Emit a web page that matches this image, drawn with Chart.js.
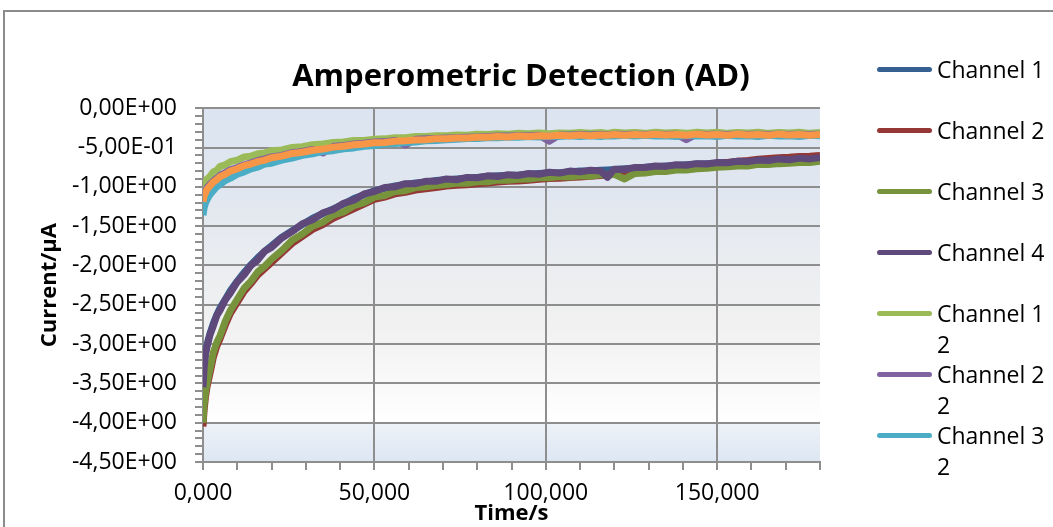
<!DOCTYPE html>
<html>
<head>
<meta charset="utf-8">
<title>Amperometric Detection (AD)</title>
<script src="https://cdn.jsdelivr.net/npm/chart.js@4.4.1/dist/chart.umd.min.js"></script>
<style>
  html, body { margin: 0; padding: 0; background: #fff; overflow: hidden; }
  #wrap { position: relative; width: 1053px; height: 527px; }
  #frame { position: absolute; left: 3px; top: 10px; width: 1100px; height: 600px; border: 2px solid #8b8b8b; }
  #chart { position: absolute; left: 0; top: 0; }
  #legend { position: absolute; left: 877px; top: 54px; width: 176px; height: 432px; overflow: hidden;
            font-family: "Open Sans"; font-size: 23px; line-height: 31px; color: #000; }
  .item { position: relative; height: 61px; }
  .swatch { position: absolute; left: 0; top: 13px; width: 55px; height: 5px; border-radius: 3px; }
  .text { position: absolute; left: 60px; top: 0; width: 116px; }
</style>
</head>
<body>
<div id="wrap">
  <div id="frame"></div>
  <canvas id="chart" width="1053" height="527"></canvas>
  <div id="legend"></div>
</div>
<script>
// time in s
const times = [0, 0.3, 0.7, 1.2, 2, 3, 4, 5, 6.5, 8, 10, 12, 14, 16, 18, 20, 23, 26, 29, 32,
  35, 38, 41, 44, 47, 50, 53, 56, 59, 62, 65, 68, 71, 74, 77, 80, 83, 86, 89, 92,
  95, 98, 101, 104, 107, 110, 113, 116, 118, 120, 123, 126, 129, 132, 135, 138, 141, 144, 147, 150,
  153, 156, 159, 162, 165, 168, 171, 174, 177, 180];

// current in µA
const ch1 = [-3.54, -3.28, -3.12, -3.00, -2.87, -2.74, -2.63, -2.54, -2.43, -2.32,
  -2.20, -2.09, -1.99, -1.90, -1.82, -1.75, -1.64, -1.56, -1.48, -1.40,
  -1.34, -1.28, -1.22, -1.15, -1.10, -1.05, -1.02, -0.99, -0.97, -0.95,
  -0.94, -0.92, -0.91, -0.90, -0.89, -0.88, -0.87, -0.86, -0.855, -0.85,
  -0.84, -0.83, -0.825, -0.82, -0.81, -0.80, -0.80, -0.79, -0.785, -0.78,
  -0.77, -0.765, -0.75, -0.745, -0.735, -0.73, -0.72, -0.71, -0.705, -0.70,
  -0.69, -0.685, -0.675, -0.67, -0.66, -0.655, -0.65, -0.64, -0.64, -0.635];
const ch2 = [-4.05, -3.85, -3.68, -3.54, -3.38, -3.17, -3.03, -2.93, -2.76, -2.61,
  -2.47, -2.33, -2.23, -2.12, -2.04, -1.96, -1.84, -1.72, -1.63, -1.54,
  -1.48, -1.40, -1.34, -1.28, -1.22, -1.16, -1.13, -1.09, -1.07, -1.04,
  -1.025, -1.01, -0.99, -0.98, -0.975, -0.96, -0.95, -0.94, -0.93, -0.925,
  -0.915, -0.905, -0.895, -0.89, -0.88, -0.875, -0.865, -0.855, -0.85, -0.84,
  -0.835, -0.825, -0.81, -0.79, -0.78, -0.765, -0.75, -0.735, -0.72, -0.705,
  -0.69, -0.675, -0.665, -0.65, -0.64, -0.63, -0.625, -0.615, -0.61, -0.60];
const ch3 = [-4.00, -3.78, -3.62, -3.49, -3.32, -3.11, -2.98, -2.89, -2.71, -2.57,
  -2.43, -2.29, -2.20, -2.08, -2.01, -1.92, -1.81, -1.68, -1.60, -1.50,
  -1.45, -1.36, -1.32, -1.24, -1.20, -1.13, -1.11, -1.06, -1.05, -1.01,
  -1.00, -0.985, -0.97, -0.955, -0.955, -0.935, -0.935, -0.915, -0.915, -0.905,
  -0.90, -0.885, -0.885, -0.87, -0.875, -0.86, -0.865, -0.845, -0.855, -0.84,
  -0.90, -0.83, -0.825, -0.805, -0.805, -0.785, -0.785, -0.77, -0.765, -0.75,
  -0.745, -0.735, -0.735, -0.715, -0.715, -0.705, -0.70, -0.69, -0.69, -0.675];
const ch4 = [-3.55, -3.31, -3.14, -3.03, -2.89, -2.77, -2.64, -2.57, -2.44, -2.35,
  -2.21, -2.12, -2.00, -1.93, -1.82, -1.77, -1.65, -1.57, -1.47, -1.42,
  -1.33, -1.29, -1.21, -1.17, -1.09, -1.06, -1.01, -1.00, -0.96, -0.96,
  -0.93, -0.93, -0.90, -0.91, -0.88, -0.885, -0.86, -0.87, -0.845, -0.855,
  -0.83, -0.84, -0.815, -0.825, -0.80, -0.81, -0.79, -0.80, -0.88, -0.775,
  -0.78, -0.755, -0.755, -0.735, -0.74, -0.72, -0.725, -0.705, -0.71, -0.69,
  -0.695, -0.675, -0.68, -0.66, -0.665, -0.645, -0.655, -0.635, -0.645, -0.625];
const ch1b = [-1.05, -0.98, -0.95, -0.90, -0.87, -0.81, -0.79, -0.74, -0.72, -0.68,
  -0.66, -0.62, -0.61, -0.58, -0.57, -0.54, -0.53, -0.50, -0.49, -0.465,
  -0.455, -0.435, -0.43, -0.41, -0.41, -0.395, -0.39, -0.375, -0.375, -0.36,
  -0.36, -0.35, -0.35, -0.34, -0.345, -0.33, -0.335, -0.325, -0.33, -0.32,
  -0.325, -0.315, -0.325, -0.315, -0.32, -0.31, -0.32, -0.31, -0.32, -0.305,
  -0.315, -0.31, -0.32, -0.305, -0.315, -0.31, -0.32, -0.305, -0.315, -0.305,
  -0.32, -0.31, -0.315, -0.305, -0.32, -0.31, -0.315, -0.305, -0.32, -0.31];
const ch2b = [-1.17, -1.10, -1.06, -1.01, -0.97, -0.925, -0.89, -0.855, -0.82, -0.785,
  -0.755, -0.72, -0.695, -0.665, -0.645, -0.62, -0.60, -0.565, -0.55, -0.525,
  -0.57, -0.485, -0.475, -0.455, -0.445, -0.43, -0.425, -0.41, -0.47, -0.395,
  -0.39, -0.385, -0.38, -0.375, -0.37, -0.365, -0.36, -0.355, -0.355, -0.35,
  -0.35, -0.345, -0.42, -0.34, -0.34, -0.335, -0.34, -0.335, -0.34, -0.33,
  -0.335, -0.33, -0.335, -0.33, -0.335, -0.33, -0.40, -0.33, -0.335, -0.33,
  -0.335, -0.33, -0.335, -0.33, -0.335, -0.33, -0.335, -0.33, -0.335, -0.33];
const ch3b = [-1.36, -1.27, -1.21, -1.16, -1.10, -1.05, -1.00, -0.97, -0.92, -0.89,
  -0.84, -0.81, -0.77, -0.75, -0.71, -0.70, -0.66, -0.635, -0.60, -0.58,
  -0.55, -0.54, -0.515, -0.505, -0.485, -0.475, -0.455, -0.45, -0.435, -0.43,
  -0.415, -0.41, -0.40, -0.395, -0.385, -0.385, -0.375, -0.375, -0.365, -0.37,
  -0.36, -0.365, -0.355, -0.36, -0.35, -0.36, -0.35, -0.36, -0.35, -0.355,
  -0.345, -0.355, -0.345, -0.355, -0.35, -0.36, -0.345, -0.355, -0.35, -0.36,
  -0.345, -0.355, -0.35, -0.36, -0.345, -0.355, -0.35, -0.36, -0.345, -0.35];
const ch4b = [-1.19, -1.12, -1.08, -1.03, -0.99, -0.94, -0.91, -0.87, -0.84, -0.80,
  -0.77, -0.73, -0.71, -0.68, -0.66, -0.63, -0.61, -0.575, -0.56, -0.535,
  -0.52, -0.495, -0.485, -0.465, -0.455, -0.44, -0.435, -0.42, -0.415, -0.405,
  -0.40, -0.39, -0.39, -0.38, -0.38, -0.37, -0.37, -0.36, -0.365, -0.355,
  -0.36, -0.35, -0.355, -0.345, -0.35, -0.34, -0.35, -0.34, -0.345, -0.335,
  -0.345, -0.335, -0.34, -0.33, -0.34, -0.335, -0.345, -0.33, -0.34, -0.335,
  -0.345, -0.33, -0.34, -0.335, -0.345, -0.33, -0.34, -0.335, -0.345, -0.335];

const seriesNames = ['Channel 1', 'Channel 2', 'Channel 3', 'Channel 4',
  'Channel 1 2', 'Channel 2 2', 'Channel 3 2', 'Channel 4 2'];
const seriesValues = [ch1, ch2, ch3, ch4, ch1b, ch2b, ch3b, ch4b];
const seriesColors = ['#376092', '#953735', '#77933c', '#5f497a',
  '#9bbb59', '#8064a2', '#4bacc6', '#f79646'];

const xTickStep = 10;
const yTickStep = 0.1;

const FONT = 'Open Sans';
const GRID = '#8e8e8e';

function sci(v) {
  const parts = v.toExponential(2).split('e');
  const e = parseInt(parts[1], 10);
  return parts[0].replace('.', ',') + 'E' + (e < 0 ? '-' : '+') + String(Math.abs(e)).padStart(2, '0');
}
const isMajor = (v, step) => Math.abs(v / step - Math.round(v / step)) < 1e-6;

// Excel style plot area fill
const plotBackground = {
  id: 'plotBackground',
  beforeDraw(chart) {
    const { ctx, chartArea: a } = chart;
    const g = ctx.createLinearGradient(0, a.top, 0, a.bottom);
    g.addColorStop(0, '#dbe4f0');
    g.addColorStop(0.25, '#e1e7f0');
    g.addColorStop(0.45, '#ebedf0');
    g.addColorStop(0.62, '#f1f1f1');
    g.addColorStop(0.78, '#f9f9f9');
    g.addColorStop(0.885, '#ffffff');
    g.addColorStop(0.89, '#eef2f8');
    g.addColorStop(1, '#dce6f2');
    ctx.save();
    ctx.fillStyle = g;
    ctx.fillRect(a.left, a.top, a.width, a.height);
    ctx.restore();
  }
};

const datasets = seriesValues.map((vals, i) => ({
  label: seriesNames[i],
  data: vals.map((v, k) => ({ x: times[k], y: v })),
  borderColor: seriesColors[i],
  backgroundColor: seriesColors[i],
  borderWidth: 7,
  pointRadius: 0,
  tension: 0,
  borderJoinStyle: 'round',
  order: seriesValues.length - i
}));

const chart = new Chart(document.getElementById('chart'), {
  type: 'line',
  data: { datasets },
  plugins: [plotBackground],
  options: {
    responsive: false,
    animation: false,
    devicePixelRatio: 1,
    layout: { padding: { left: 0, right: 11, top: 0, bottom: 0 } },
    plugins: {
      legend: { display: false },
      tooltip: { enabled: false },
      title: {
        display: true,
        text: 'Amperometric Detection (AD)',
        color: '#000',
        font: { family: FONT, size: 31, weight: 'bold', lineHeight: 1.2 },
        padding: { top: 59, bottom: 12 }
      }
    },
    scales: {
      x: {
        type: 'linear',
        min: 0,
        max: 180,
        afterFit(s) { s.height = 65; },
        ticks: {
          stepSize: xTickStep,
          autoSkip: false,
          maxRotation: 0,
          padding: 10,
          color: '#000',
          font: { family: FONT, size: 23 },
          callback: v => isMajor(v, 50) ? v.toFixed(3).replace('.', ',') : ''
        },
        grid: {
          color: c => isMajor(c.tick.value, 50) ? GRID : 'rgba(0,0,0,0)',
          tickColor: GRID,
          lineWidth: 2,
          tickLength: 8
        },
        border: { color: GRID, width: 2 },
        title: {
          display: true,
          text: 'Time/s',
          color: '#000',
          font: { family: FONT, size: 22, weight: 'bold' },
          padding: { top: 0, bottom: 0 }
        }
      },
      y: {
        min: -4.5,
        max: 0,
        afterFit(s) { s.width = 203; },
        ticks: {
          stepSize: yTickStep,
          autoSkip: false,
          padding: 18,
          color: '#000',
          font: { family: FONT, size: 23 },
          callback: v => isMajor(v, 0.5) ? sci(v) : ''
        },
        grid: {
          color: c => isMajor(c.tick.value, 0.5) ? GRID : 'rgba(0,0,0,0)',
          tickColor: GRID,
          lineWidth: 2,
          tickLength: 8
        },
        border: { color: GRID, width: 2 },
        title: {
          display: true,
          text: 'Current/µA',
          color: '#000',
          font: { family: FONT, size: 22, weight: 'bold' },
          padding: { top: 37, bottom: 0 }
        }
      },
      // empty space on the right that the legend sits in
      gap: {
        type: 'linear',
        position: 'right',
        display: true,
        afterFit(s) { s.width = 222; },
        grid: { display: false },
        ticks: { display: false },
        border: { display: false }
      }
    }
  }
});

// legend with wrapping labels, like the Excel one
const legend = document.getElementById('legend');
chart.data.datasets.forEach(ds => {
  const item = document.createElement('div');
  item.className = 'item';
  const sw = document.createElement('div');
  sw.className = 'swatch';
  sw.style.background = ds.borderColor;
  const tx = document.createElement('div');
  tx.className = 'text';
  tx.textContent = ds.label;
  item.appendChild(sw);
  item.appendChild(tx);
  legend.appendChild(item);
});
</script>
</body>
</html>
